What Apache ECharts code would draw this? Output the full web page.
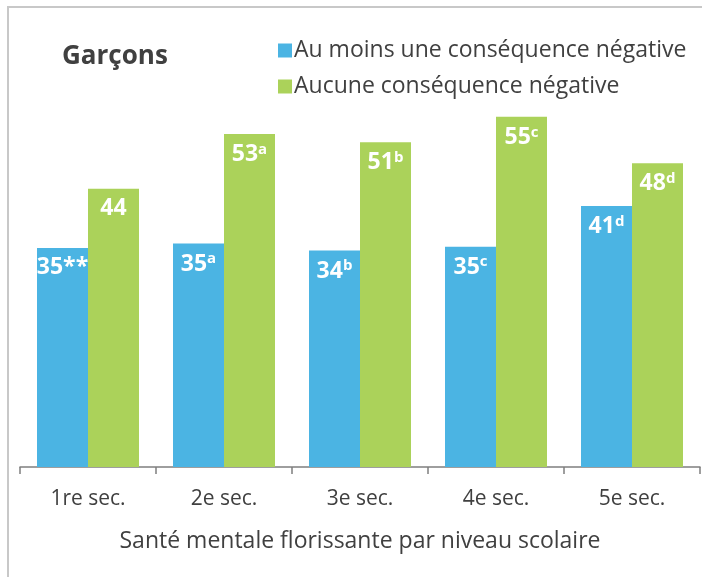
<!DOCTYPE html>
<html>
<head>
<meta charset="utf-8">
<script src="https://cdn.jsdelivr.net/npm/echarts@6/dist/echarts.min.js"></script>
<style>
  html, body { margin: 0; padding: 0; background: #fff; }
  #chart { width: 702px; height: 577px; }
</style>
</head>
<body>
<div id="chart"></div>
<script>
var categories = ["1re sec.", "2e sec.", "3e sec.", "4e sec.", "5e sec."];
var seriesNames = ["Au moins une conséquence négative", "Aucune conséquence négative"];
// bar heights
var blueValues = [34.4, 35.1, 34.0, 34.6, 41.0];
var greenValues = [43.7, 52.3, 51.0, 55.0, 47.7];
// printed labels and their superscripts
var blueLabels = ["35", "35", "34", "35", "41"];
var blueSup = ["**", "a", "b", "c", "d"];
var greenLabels = ["44", "53", "51", "55", "48"];
var greenSup = ["", "a", "b", "c", "d"];

var font = "Open Sans";
var textColor = "#404040";

var chartDom = document.getElementById("chart");
var myChart = echarts.init(chartDom);

function makeLabel(labels, sups) {
  return {
    show: true,
    position: "insideTop",
    distance: 8,
    formatter: function (p) {
      var s = sups[p.dataIndex];
      if (s === "**") {
        return "{v|" + labels[p.dataIndex] + "**}";
      }
      return "{v|" + labels[p.dataIndex] + "}" + (s ? "{s|" + s + "}" : "");
    },
    rich: {
      v: { color: "#fff", fontFamily: font, fontWeight: "bold", fontSize: 23 },
      s: { color: "#fff", fontFamily: font, fontWeight: "bold", fontSize: 15, padding: [0, 0, 10, 0] }
    }
  };
}

var option = {
  animation: false,
  graphic: [
    {
      type: "rect",
      shape: { x: 8, y: 7, width: 900, height: 800 },
      style: { fill: "none", stroke: "#c8c8c8", lineWidth: 2 },
      silent: true
    }
  ],
  title: {
    text: "Garçons",
    left: 57,
    top: 39,
    textStyle: { color: textColor, fontFamily: font, fontWeight: "bold", fontSize: 26 }
  },
  legend: {
    orient: "vertical",
    left: 273,
    top: 34,
    itemWidth: 14,
    itemHeight: 14,
    itemGap: 13,
    icon: "rect",
    data: seriesNames,
    textStyle: { color: textColor, fontFamily: font, fontSize: 23, padding: [0, 0, 0, -3] }
  },
  grid: {
    left: 20,
    right: 2,
    top: 85,
    bottom: 110,
    containLabel: false
  },
  xAxis: {
    type: "category",
    data: categories,
    axisLine: { lineStyle: { color: "#7f7f7f", width: 1.5 } },
    axisTick: { show: true, length: 7, lineStyle: { color: "#7f7f7f", width: 1.5 } },
    axisLabel: { color: textColor, fontFamily: font, fontSize: 21, margin: 22 },
    name: "Santé mentale florissante par niveau scolaire",
    nameLocation: "middle",
    nameGap: 63,
    nameTextStyle: { color: textColor, fontFamily: font, fontSize: 23 }
  },
  yAxis: {
    type: "value",
    min: 0,
    max: 60,
    show: false
  },
  series: [
    {
      name: seriesNames[0],
      type: "bar",
      data: blueValues,
      barGap: "0%",
      barCategoryGap: "25%",
      itemStyle: { color: "#4bb4e3" },
      label: makeLabel(blueLabels, blueSup)
    },
    {
      name: seriesNames[1],
      type: "bar",
      data: greenValues,
      barGap: "0%",
      barCategoryGap: "25%",
      itemStyle: { color: "#abd25a" },
      label: makeLabel(greenLabels, greenSup)
    }
  ]
};
option && myChart.setOption(option);
</script>
</body>
</html>
